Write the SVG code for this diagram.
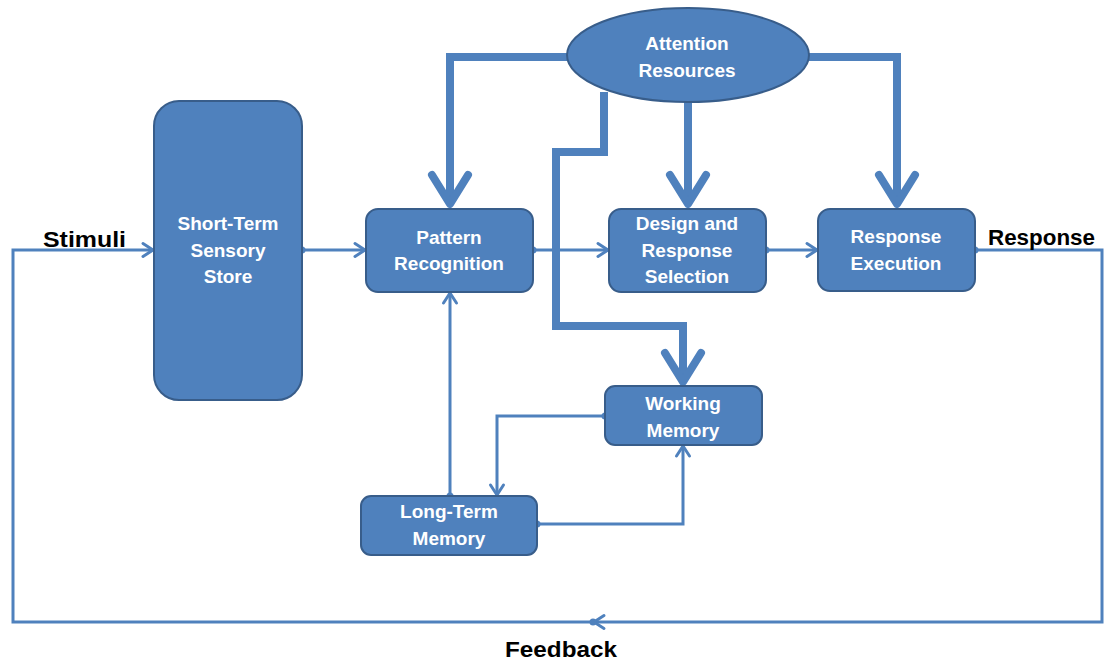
<svg xmlns="http://www.w3.org/2000/svg" width="1104" height="663" viewBox="0 0 1104 663">
  <style>
    .node { fill: #4F81BD; stroke: #385D8A; stroke-width: 2; }
    .thin { fill: none; stroke: #4F81BD; stroke-width: 3; }
    .thick { fill: none; stroke: #4F81BD; stroke-width: 8; stroke-linejoin: miter; }
    .lbl { font-family: "Liberation Sans", Arial, sans-serif; font-weight: bold; font-size: 19px; fill: #FFFFFF; text-anchor: middle; }
    .ext { font-family: "Liberation Sans", Arial, sans-serif; font-weight: bold; font-size: 22px; fill: #000000; }
  </style>
  <defs>
    <marker id="arrowThin" markerUnits="userSpaceOnUse" viewBox="-14 -9 16 18" refX="0" refY="0" markerWidth="16" markerHeight="18" orient="auto">
      <path d="M-11,-6.5 L-1,0 L-11,6.5" fill="none" stroke="#4F81BD" stroke-width="3" stroke-linecap="round" stroke-linejoin="round"/>
    </marker>
    <marker id="arrowThick" markerUnits="userSpaceOnUse" viewBox="-40 -26 44 52" refX="-4" refY="0" markerWidth="44" markerHeight="52" orient="auto">
      <path d="M-32,-18 L-3,0 L-32,18" fill="none" stroke="#4F81BD" stroke-width="8" stroke-linecap="round" stroke-linejoin="round"/>
    </marker>
    <marker id="dot" markerUnits="userSpaceOnUse" viewBox="-5 -5 10 10" refX="0" refY="0" markerWidth="10" markerHeight="10" orient="auto">
      <circle cx="0" cy="0" r="3.5" fill="#4F81BD"/>
    </marker>
  </defs>

  <g id="connectors">
    <!-- attention resource arrows (thick) -->
    <path class="thick" d="M580,57 H450 V203" marker-end="url(#arrowThick)"/>
    <path class="thick" d="M688,95 V203" marker-end="url(#arrowThick)"/>
    <path class="thick" d="M796,57 H897 V203" marker-end="url(#arrowThick)"/>
    <path class="thick" d="M604,92 V152 H556 V326 H683 V381" marker-end="url(#arrowThick)"/>
    <!-- main flow (thin) -->
    <path class="thin" d="M302,250 H366" marker-start="url(#dot)" marker-end="url(#arrowThin)"/>
    <path class="thin" d="M533,250 H609" marker-start="url(#dot)" marker-end="url(#arrowThin)"/>
    <path class="thin" d="M766,250 H818" marker-start="url(#dot)" marker-end="url(#arrowThin)"/>
    <!-- memory links -->
    <path class="thin" d="M450,496 V292" marker-start="url(#dot)" marker-end="url(#arrowThin)"/>
    <path class="thin" d="M605,416 H497 V496" marker-start="url(#dot)" marker-end="url(#arrowThin)"/>
    <path class="thin" d="M537,524 H683 V445" marker-start="url(#dot)" marker-end="url(#arrowThin)"/>
    <!-- response / feedback / stimuli loop -->
    <path class="thin" d="M975,250 H1102 V622 H593" marker-start="url(#dot)" marker-end="url(#arrowThin)"/>
    <path class="thin" d="M593,622 H13 V250 H154" marker-start="url(#dot)" marker-end="url(#arrowThin)"/>
  </g>

  <g id="attention-resources">
    <ellipse class="node" cx="688" cy="55" rx="121" ry="47"/>
    <text class="lbl" x="687" y="50">Attention</text>
    <text class="lbl" x="687" y="77">Resources</text>
  </g>

  <g id="short-term-sensory-store">
    <rect class="node" x="154" y="101" width="148" height="299" rx="25" ry="25"/>
    <text class="lbl" x="228" y="230">Short-Term</text>
    <text class="lbl" x="228" y="257">Sensory</text>
    <text class="lbl" x="228" y="283">Store</text>
  </g>

  <g id="pattern-recognition">
    <rect class="node" x="366" y="209" width="167" height="83" rx="12" ry="12"/>
    <text class="lbl" x="449" y="244">Pattern</text>
    <text class="lbl" x="449" y="270">Recognition</text>
  </g>

  <g id="design-response-selection">
    <rect class="node" x="609" y="209" width="157" height="83" rx="12" ry="12"/>
    <text class="lbl" x="687" y="230">Design and</text>
    <text class="lbl" x="687" y="256.5">Response</text>
    <text class="lbl" x="687" y="283">Selection</text>
  </g>

  <g id="response-execution">
    <rect class="node" x="818" y="209" width="157" height="82" rx="12" ry="12"/>
    <text class="lbl" x="896" y="243">Response</text>
    <text class="lbl" x="896" y="270">Execution</text>
  </g>

  <g id="working-memory">
    <rect class="node" x="605" y="386" width="157" height="59" rx="10" ry="10"/>
    <text class="lbl" x="683" y="410">Working</text>
    <text class="lbl" x="683" y="437">Memory</text>
  </g>

  <g id="long-term-memory">
    <rect class="node" x="361" y="496" width="176" height="59" rx="10" ry="10"/>
    <text class="lbl" x="449" y="518">Long-Term</text>
    <text class="lbl" x="449" y="545">Memory</text>
  </g>

  <g id="labels">
    <text class="ext" x="43" y="247" textLength="83" lengthAdjust="spacingAndGlyphs">Stimuli</text>
    <text class="ext" x="988" y="245" textLength="107" lengthAdjust="spacingAndGlyphs">Response</text>
    <text class="ext" x="505" y="657" textLength="112" lengthAdjust="spacingAndGlyphs">Feedback</text>
  </g>
</svg>
